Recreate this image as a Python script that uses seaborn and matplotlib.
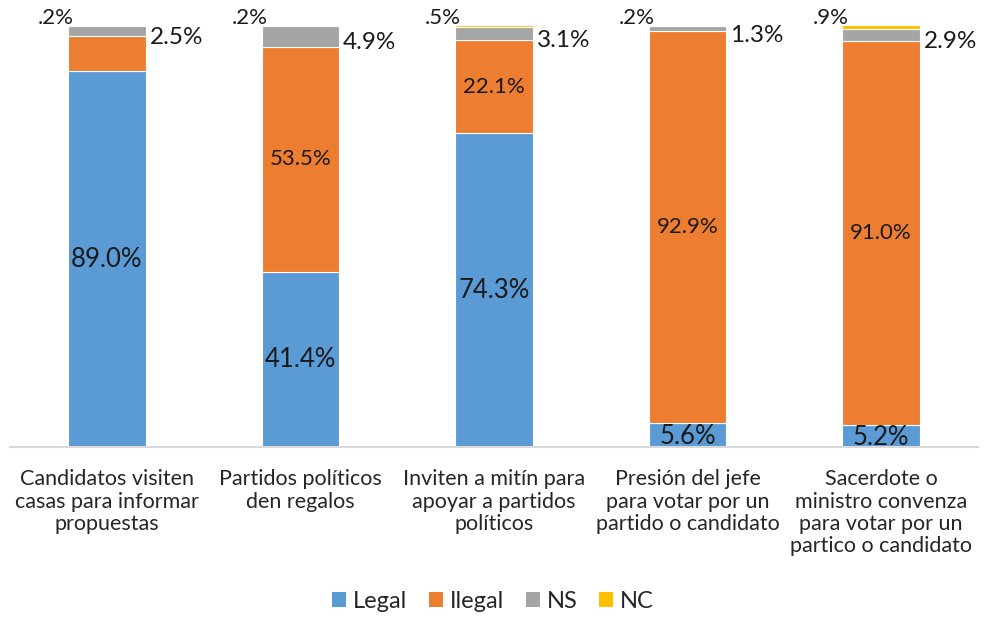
import matplotlib
matplotlib.use("Agg")
import matplotlib.pyplot as plt
import seaborn as sns
import pandas as pd
import numpy as np
from matplotlib.patches import Patch

categories = [
    "Candidatos visiten\ncasas para informar\npropuestas",
    "Partidos políticos\nden regalos",
    "Inviten a mitín para\napoyar a partidos\npolíticos",
    "Presión del jefe\npara votar por un\npartido o candidato",
    "Sacerdote o\nministro convenza\npara votar por un\npartico o candidato",
]
legal = [89.0, 41.4, 74.3, 5.6, 5.2]
ilegal = [8.3, 53.5, 22.1, 92.9, 91.0]
ns = [2.5, 4.9, 3.1, 1.3, 2.9]
nc = [0.2, 0.2, 0.5, 0.2, 0.9]
show_ilegal_label = [False, True, True, True, True]

series_names = ["Legal", "Ilegal", "NS", "NC"]
series_vals = [legal, ilegal, ns, nc]
colors = ["#5B9BD5", "#ED7D31", "#A5A5A5", "#FFC000"]

sns.set_theme(style="white")
plt.rcParams['font.family'] = ['Lato', 'DejaVu Sans']

fig = plt.figure(figsize=(9.86, 6.18), dpi=100)
ax = fig.add_axes([10/986, (618-447)/618, (978-10)/986, (447-25)/618])

bottom = np.zeros(len(categories))
for name, vals, col in zip(series_names, series_vals, colors):
    df = pd.DataFrame({"cat": categories, "val": vals})
    sns.barplot(data=df, x="cat", y="val", bottom=bottom, color=col, width=0.4,
                ax=ax, label=name, edgecolor="white", linewidth=0.8,
                order=categories, saturation=1, legend=False)
    bottom = bottom + np.array(vals)

leg = ax.get_legend()
if leg is not None:
    leg.remove()

ax.set_ylim(0, 100)
ax.set_xlim(-0.5, 4.5)
ax.set_xlabel("")
ax.set_ylabel("")
ax.set_yticks([])
for s in ["top", "right", "left"]:
    ax.spines[s].set_visible(False)
ax.spines["bottom"].set_color("#D9D9D9")
ax.spines["bottom"].set_linewidth(1.5)
ax.tick_params(axis="x", length=0, pad=16, colors="#262626")
ax.set_xticks(range(len(categories)))
ax.set_xticklabels(categories, fontsize=15.5, color="#262626", linespacing=1.15)

txt = "#1a1a1a"
hw = 0.2
for i in range(len(categories)):
    ax.text(i, legal[i] / 2 if legal[i] > 10 else legal[i] / 2 - 0.4,
            f"{legal[i]:.1f}%", ha="center", va="center", fontsize=18.5, color=txt)
    if show_ilegal_label[i]:
        ax.text(i, legal[i] + ilegal[i] / 2, f"{ilegal[i]:.1f}%",
                ha="center", va="center", fontsize=16, color=txt)
    ax.text(i + hw + 0.02, legal[i] + ilegal[i] + ns[i] / 2 - 1.6,
            f"{ns[i]:.1f}%", ha="left", va="center", fontsize=17.5, color=txt, clip_on=False)
    ax.text(i - hw + 0.03, 100 + 1.7, f"{nc[i]:.1f}%".lstrip("0"),
            ha="right", va="center", fontsize=16, color=txt, clip_on=False)

handles = [Patch(facecolor=c, edgecolor="none") for c in colors]
fig.legend(handles, series_names, loc="center", bbox_to_anchor=(0.5, (618-601)/618),
           ncol=4, frameon=False, fontsize=17, handlelength=0.6, handleheight=0.6,
           handletextpad=0.3, columnspacing=0.9, labelcolor="#262626")

fig.savefig("out.png", dpi=100)
